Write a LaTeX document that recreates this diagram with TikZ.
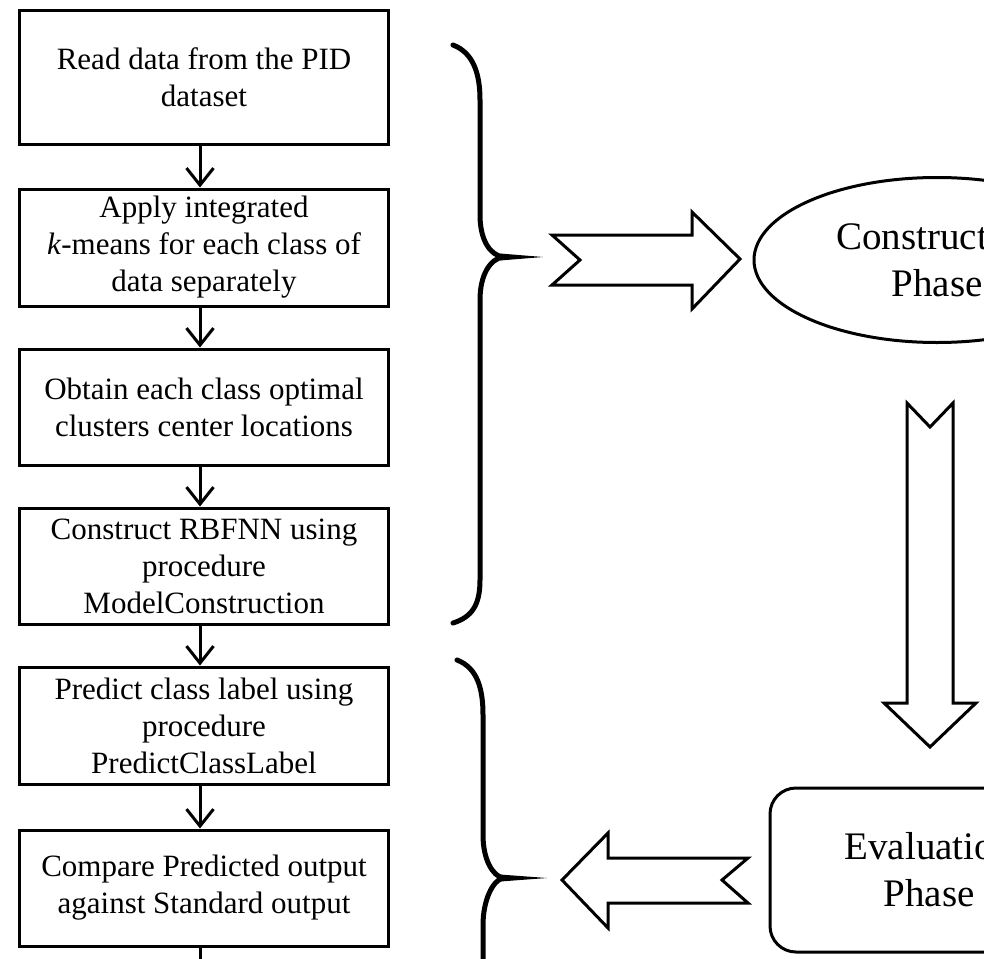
\documentclass[tikz,border=0pt]{standalone}
\usepackage{fontspec}
\setmainfont{Liberation Serif}
\usepackage{tikz}
\usetikzlibrary{arrows.meta,shapes.geometric,calc}

\begin{document}
\begin{tikzpicture}[x=1pt, y=-1pt, line width=3pt,
procbox/.style={rectangle, draw, fill=white, minimum width=369pt, align=center,
  inner sep=0pt, font=\fontsize{31}{37}\selectfont},
phaseellipse/.style={ellipse, draw, minimum width=366pt, minimum height=165pt,
  align=center, inner sep=0pt, font=\fontsize{39}{47}\selectfont},
phasebox/.style={rectangle, draw, rounded corners=26pt, minimum width=318pt,
  minimum height=164pt, align=center, inner sep=0pt, font=\fontsize{39}{47}\selectfont},
flow/.style={-{Straight Barb[length=17pt, width=27pt, line width=3pt]}},
bigarrow/.style={draw, fill=white, line width=3pt, miter limit=8},
brace/.style={line width=5pt, line cap=round}
  ]
  \useasboundingbox (0,0) rectangle (984,958);
  \clip (0,0) rectangle (984,958);

  %% steps of the method
  \node[procbox, minimum height=133pt] (read) at (204,77.5) {Read data from the PID\\dataset};
  \node[procbox, minimum height=117pt] (kmeans) at (204,247.5) {Apply integrated\\\textit{k}-means for each class of\\data separately};
  \node[procbox, minimum height=116pt] (centers) at (204,407) {Obtain each class optimal\\clusters center locations};
  \node[procbox, minimum height=116pt] (rbfnn) at (204,566) {Construct RBFNN using\\procedure\\ModelConstruction};
  \node[procbox, minimum height=117pt] (predict) at (204,725.5) {Predict class label using\\procedure\\PredictClassLabel};
  \node[procbox, minimum height=116pt] (compare) at (204,888) {Compare Predicted output\\against  Standard output};
  \coordinate (cont) at (200,980);

  \draw[flow] (read.south -| 200,0) -- (kmeans.north -| 200,0);
  \draw[flow] (kmeans.south -| 200,0) -- (centers.north -| 200,0);
  \draw[flow] (centers.south -| 200,0) -- (rbfnn.north -| 200,0);
  \draw[flow] (rbfnn.south -| 200,0) -- (predict.north -| 200,0);
  \draw[flow] (predict.south -| 200,0) -- (compare.north -| 200,0);
  \draw (compare.south -| 200,0) -- (cont);

  %% phases
  \node[phaseellipse] (construction) at (937,260) {Construction\\Phase};
  \node[phasebox] (evaluation) at (929,870) {Evaluation\\Phase};

  %% braces
  \draw[brace] (453,45) .. controls (474,53) and (480,75) .. (480,100) -- (480,215)
    .. controls (480,240) and (490,255) .. (503,257)
    .. controls (490,259) and (480,275) .. (480,300) -- (480,580)
    .. controls (480,605) and (472,617) .. (453,623);
  \fill (500,253.5) -- (543,257) -- (500,260.5) -- cycle;
  \draw[brace] (457,660) .. controls (478,668) and (483,690) .. (483,715) -- (483,835)
    .. controls (483,860) and (493,876) .. (503,878)
    .. controls (493,880) and (483,900) .. (483,925) -- (483,975);
  \fill (500,874.5) -- (547,878) -- (500,881.5) -- cycle;

  %% block arrows
  \path[bigarrow] (552,235) -- (692,235) -- (692,212) -- (740,259) -- (692,309)
    -- (692,285) -- (552,285) -- (580,260) -- cycle;
  \path[bigarrow] (907,403) -- (930,427) -- (953,403) -- (953,703) -- (976,703)
    -- (930,747) -- (884,703) -- (907,703) -- cycle;
  \path[bigarrow] (562,880) -- (608,833) -- (608,858) -- (748,858) -- (722,880)
    -- (748,903) -- (608,903) -- (608,928) -- cycle;
\end{tikzpicture}
\end{document}
